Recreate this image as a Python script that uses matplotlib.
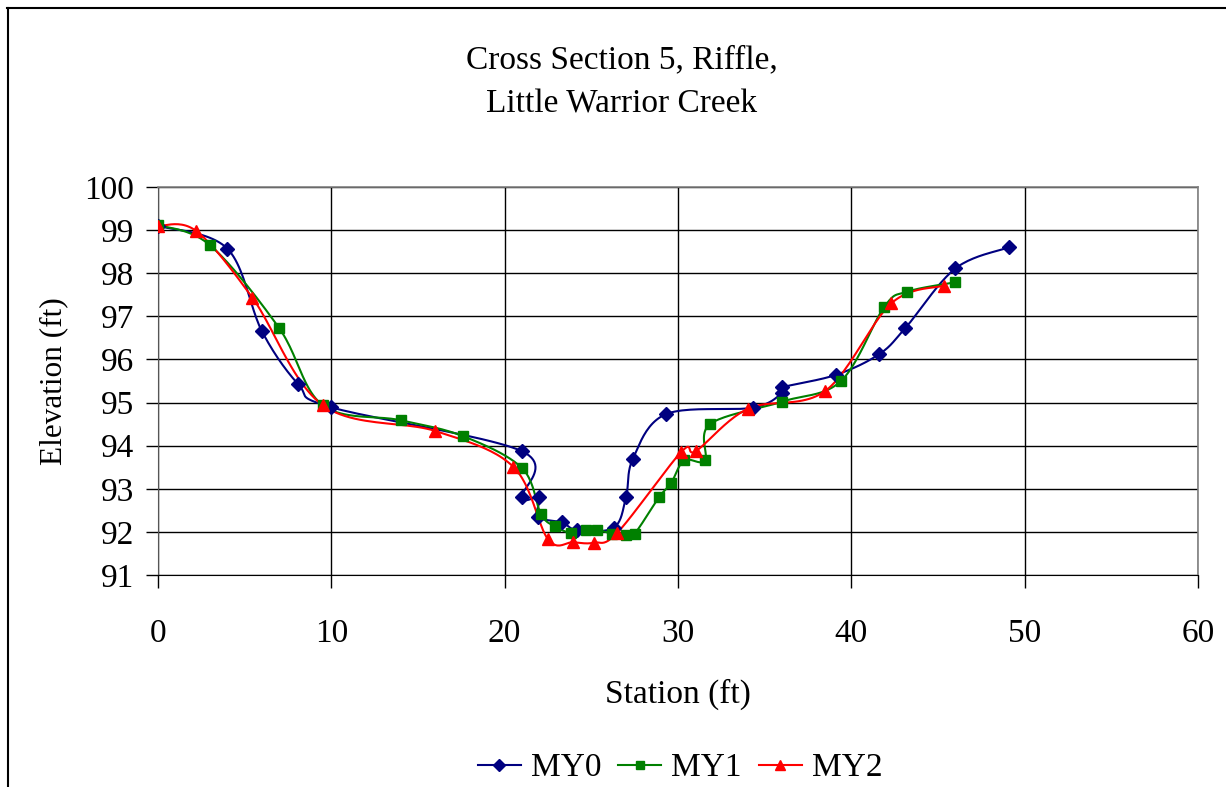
import numpy as np
import matplotlib
matplotlib.use("Agg")
import matplotlib.pyplot as plt
from matplotlib.lines import Line2D

# ---- data ----
my0_x = [0, 4.0, 6.0, 8.1, 10.0, 21.0, 21.0, 22.0, 21.9, 23.3, 24.2, 26.3, 27.0, 27.4,
         29.3, 34.3, 36.0, 36.0, 39.1, 41.6, 43.1, 46.0, 49.1]
my0_y = [99.1, 98.57, 96.65, 95.42, 94.89, 93.87, 92.8, 92.8, 92.35, 92.22, 92.04, 92.1,
         92.8, 93.7, 94.73, 94.88, 95.22, 95.35, 95.64, 96.12, 96.72, 98.11, 98.6]

my1_x = [0, 3.0, 7.0, 9.5, 14.0, 17.6, 21.0, 22.1, 22.9, 23.8, 24.7, 25.3, 26.2, 27.0,
         27.5, 28.9, 29.6, 30.35, 31.55, 31.85, 36.0, 39.4, 41.9, 43.2, 46.0]
my1_y = [99.12, 98.65, 96.72, 94.94, 94.59, 94.22, 93.48, 92.41, 92.13, 91.98, 92.04,
         92.05, 91.96, 91.93, 91.96, 92.8, 93.13, 93.66, 93.66, 94.5, 95.02, 95.5, 97.22,
         97.57, 97.79]

my2_x = [0, 2.2, 5.45, 9.5, 16.0, 20.5, 22.5, 23.95, 25.15, 26.5, 30.2, 31.05, 34.05,
         38.5, 42.3, 45.35]
my2_y = [99.1, 98.98, 97.43, 94.94, 94.34, 93.51, 91.83, 91.76, 91.75, 91.98, 93.86,
         93.88, 94.86, 95.27, 97.3, 97.71]

series_names = ["MY0", "MY1", "MY2"]
colors = ["#000080", "#008000", "#FF0000"]
markers = ["D", "s", "^"]
msizes = [7, 7.5, 9]

title = "Cross Section 5, Riffle,\nLittle Warrior Creek"
x_label = "Station (ft)"
y_label = "Elevation (ft)"


def smooth(xs, ys, n=24):
    p = np.column_stack([xs, ys]).astype(float)
    m = len(p)
    tang = np.zeros_like(p)
    for i in range(m):
        a = p[max(i - 1, 0)]
        b = p[min(i + 1, m - 1)]
        tang[i] = (b - a) / 2.0
    out = [p[0]]
    t = np.linspace(0, 1, n)[1:]
    for i in range(m - 1):
        p0 = p[i]
        p3 = p[i + 1]
        c1 = p0 + tang[i] / 3.0
        c2 = p3 - tang[i + 1] / 3.0
        for tt in t:
            pt = ((1 - tt) ** 3) * p0 + 3 * ((1 - tt) ** 2) * tt * c1 + 3 * (1 - tt) * tt ** 2 * c2 + tt ** 3 * p3
            out.append(pt)
    out = np.array(out)
    return out[:, 0], out[:, 1]


plt.rcParams["font.family"] = ["Liberation Serif", "DejaVu Serif"]

W, H = 1226, 787
fig = plt.figure(figsize=(W / 100, H / 100), dpi=100)
ax = fig.add_axes([158 / W, 1 - 575 / H, (1198 - 158) / W, (575 - 187) / H])

data = [(my0_x, my0_y), (my1_x, my1_y), (my2_x, my2_y)]
handles = []
for (xs, ys), name, c, mk, ms in zip(data, series_names, colors, markers, msizes):
    sx, sy = smooth(xs, ys)
    ax.plot(sx, sy, color=c, lw=1.5, zorder=3)
    ax.plot(xs, ys, ls="none", marker=mk, ms=ms, color=c, mec=c, zorder=4)
    handles.append(Line2D([], [], color=c, lw=1.5, marker=mk, ms=ms * 0.85, mec=c))

ax.set_xlim(0, 60)
ax.set_ylim(91, 100)
ax.set_xticks(range(0, 61, 10))
ax.set_yticks(range(91, 101, 1))
ax.grid(True, color="black", lw=1.0, zorder=1)
ax.set_axisbelow(True)
for side in ["top", "right"]:
    ax.spines[side].set_color("#808080")
    ax.spines[side].set_linewidth(1.2)
ax.spines["left"].set_color("#555555")
ax.spines["bottom"].set_color("black")
ax.tick_params(axis="both", direction="out", length=9, width=1, labelsize=24, pad=6)
ax.tick_params(axis="y", pad=8)
ax.tick_params(axis="x", pad=22)

ax.set_xlabel(x_label, fontsize=24, labelpad=22)
ax.set_ylabel(y_label, fontsize=22.5, labelpad=12)

fig.text(622 / W, 1 - 82 / H, title, ha="center", va="center", fontsize=24, linespacing=1.6)

fig.legend(handles, series_names, loc="center", bbox_to_anchor=(680 / W, 1 - 768 / H),
           ncol=3, frameon=False, fontsize=24, handlelength=1.3, columnspacing=0.5,
           handletextpad=0.3, borderpad=0)

# outer chart border
fig.add_artist(Line2D([7.5 / W, 7.5 / W], [0, 1 - 8 / H], color="black", lw=1.5, transform=fig.transFigure))
fig.add_artist(Line2D([7 / W, 1], [1 - 8 / H, 1 - 8 / H], color="black", lw=1.5, transform=fig.transFigure))

fig.savefig("out.png", dpi=100)
